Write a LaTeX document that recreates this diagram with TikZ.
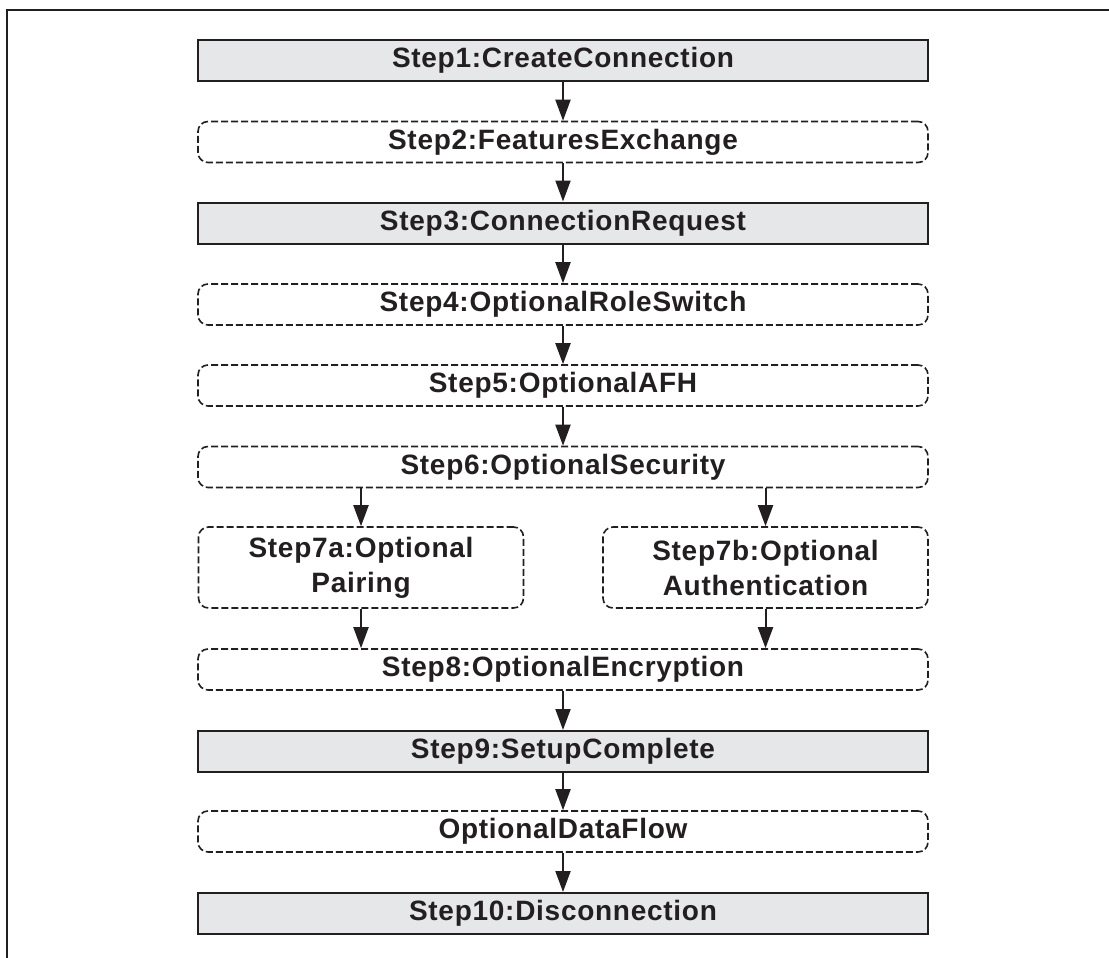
\documentclass[tikz,border=0pt]{standalone}
\usepackage{fontspec}
\setmainfont{Liberation Sans}[LetterSpace=2.6]
\usetikzlibrary{arrows.meta}
\definecolor{ink}{HTML}{231F20}
\definecolor{boxgray}{HTML}{E6E7E8}
\begin{document}
\begin{tikzpicture}[x=1pt,y=-1pt,
  every node/.style={font=\fontsize{28}{35}\selectfont\bfseries, text=ink, align=center, inner sep=0pt},
  solidbox/.style={draw=ink, line width=2pt, fill=boxgray, minimum width=730pt, minimum height=41pt},
  dashbox/.style={draw=ink, line width=1.6pt, dash pattern=on 7pt off 3pt, rounded corners=10pt, minimum width=730pt, minimum height=41pt},
  halfbox/.style={dashbox, minimum width=325pt, minimum height=81pt},
  flow/.style={draw=ink, line width=2pt, -{Triangle[length=21pt,width=15pt]}}
]
\useasboundingbox (0,0) rectangle (1109,958);
\draw[ink, line width=2.2pt] (7,958) -- (7,10) -- (1109,10);

\node[solidbox] (s1) at (563,60.5) {Step1:CreateConnection};
\node[dashbox] (s2) at (563,142) {Step2:FeaturesExchange};
\node[solidbox] (s3) at (563,223) {Step3:ConnectionRequest};
\node[dashbox] (s4) at (563,304.5) {Step4:OptionalRoleSwitch};
\node[dashbox] (s5) at (563,385.5) {Step5:OptionalAFH};
\node[dashbox] (s6) at (563,467) {Step6:OptionalSecurity};
\node[halfbox] (s7a) at (361,567.5) {Step7a:Optional\\Pairing};
\node[halfbox] (s7b) at (765.5,567.5) {Step7b:Optional\\Authentication};
\node[dashbox] (s8) at (563,669.5) {Step8:OptionalEncryption};
\node[solidbox] (s9) at (563,751.5) {Step9:SetupComplete};
\node[dashbox] (df) at (563,831.5) {OptionalDataFlow};
\node[solidbox] (s10) at (563,913.5) {Step10:Disconnection};

\draw[flow] (s1) -- (s2);
\draw[flow] (s2) -- (s3);
\draw[flow] (s3) -- (s4);
\draw[flow] (s4) -- (s5);
\draw[flow] (s5) -- (s6);
\draw[flow] (s6.south -| s7a) -- (s7a);
\draw[flow] (s6.south -| s7b) -- (s7b);
\draw[flow] (s7a) -- (s8.north -| s7a);
\draw[flow] (s7b) -- (s8.north -| s7b);
\draw[flow] (s8) -- (s9);
\draw[flow] (s9) -- (df);
\draw[flow] (df) -- (s10);
\end{tikzpicture}
\end{document}
